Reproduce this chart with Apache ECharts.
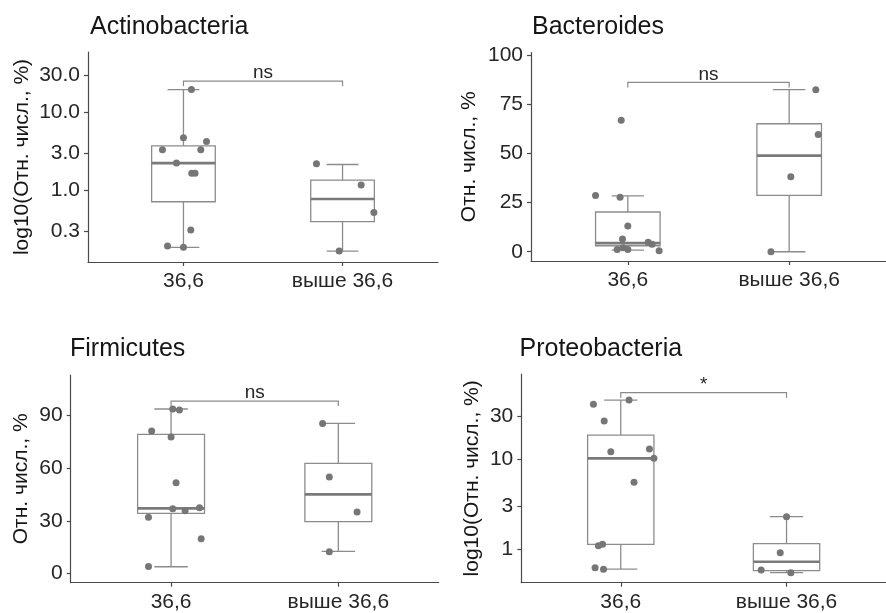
<!DOCTYPE html>
<html>
<head>
<meta charset="utf-8">
<script src="https://cdn.jsdelivr.net/npm/echarts@6/dist/echarts.min.js"></script>
<style>
html,body{margin:0;padding:0;background:#fff;}
#chart{width:886px;height:613px;}
</style>
</head>
<body>
<div id="chart"></div>
<script>
// ---------------- DATA ----------------
const categories = ['36,6', 'выше 36,6'];
const panelTitles = ['Actinobacteria', 'Bacteroides', 'Firmicutes', 'Proteobacteria'];
const yNames = ['log10(Отн. числ., %)', 'Отн. числ., %', 'Отн. числ., %', 'log10(Отн. числ., %)'];

// Actinobacteria (%), log scale
const actinoGroup1 = [19.5, 4.69, 4.21, 3.29, 3.29, 2.22, 1.64, 1.64, 0.307, 0.191, 0.184];
const actinoJitter1 = [0.05, 0, 0.145, -0.132, 0.109, -0.044, 0.052, 0.073, 0.046, -0.1, 0];
const actinoGroup2 = [2.18, 1.16, 0.517, 0.165];
const actinoJitter2 = [-0.164, 0.117, 0.197, -0.021];
const actinoBox = [[0.184, 0.708, 2.22, 3.70, 19.5], [0.165, 0.393, 0.767, 1.34, 2.13]];
const actinoTicks = [0.3, 1, 3, 10, 30];

// Bacteroides (%)
const bactGroup1 = [66.8, 28.6, 27.7, 13.1, 6.5, 4.8, 3.8, 2.0, 1.2, 1.2, 0.5];
const bactJitter1 = [-0.041, -0.2, -0.048, 0, -0.033, 0.126, 0.15, -0.03, -0.066, 0, 0.194];
const bactGroup2 = [82.3, 59.5, 38.1, 0];
const bactJitter2 = [0.165, 0.18, 0.01, -0.113];
const bactBox = [[0.86, 3.05, 4.4, 20.2, 28.4], [0, 28.6, 48.8, 65, 82.3]];
const bactTicks = [0, 25, 50, 75, 100];

// Firmicutes (%)
const firmGroup1 = [93.8, 93.2, 81.2, 77.8, 51.7, 36.9, 35.8, 37.5, 32, 19.8, 4.0];
const firmJitter1 = [0.01, 0.05, -0.116, 0, 0.03, 0.01, 0.084, 0.17, -0.135, 0.18, -0.135];
const firmGroup2 = [85.6, 55, 35, 12.4];
const firmJitter2 = [-0.094, -0.054, 0.112, -0.054];
const firmBox = [[3.8, 34.2, 37.1, 79.3, 93.8], [12.6, 29.5, 45.1, 62.8, 85.6]];
const firmTicks = [0, 30, 60, 90];

// Proteobacteria (%), log scale
const proteoGroup1 = [45.9, 41.1, 26.8, 12.2, 13.1, 10.3, 5.57, 1.137, 1.1, 0.625, 0.599];
const proteoJitter1 = [0.05, -0.165, -0.1, -0.06, 0.173, 0.2, 0.08, -0.11, -0.135, -0.155, -0.104];
const proteoGroup2 = [2.31, 0.918, 0.589, 0.55];
const proteoJitter2 = [0, -0.038, -0.153, 0.026];
const proteoBox = [[0.604, 1.137, 10.3, 18.7, 45.9], [0.55, 0.579, 0.729, 1.156, 2.31]];
const proteoTicks = [1, 3, 10, 30];

// significance brackets
const sigLabels = ['ns', 'ns', 'ns', '*'];
const sigLevels = [25, 86, 98.3, 55.5];

// ---------------- LAYOUT / STYLE ----------------
const FONT = "'Liberation Sans', Arial, sans-serif";
const panels = [
  { g1: actinoGroup1, j1: actinoJitter1, g2: actinoGroup2, j2: actinoJitter2, box: actinoBox, ticks: actinoTicks, log: true, dec: 1,
    grid: { left: 88, top: 52, width: 350, height: 210 }, yRange: [0.1194, 59.2], nameGap: 55, titlePos: [90, 14.5] },
  { g1: bactGroup1, j1: bactJitter1, g2: bactGroup2, j2: bactJitter2, box: bactBox, ticks: bactTicks, log: false, dec: 0,
    grid: { left: 531, top: 52.5, width: 356, height: 208.5 }, yRange: [-4.7, 101.2], nameGap: 51.5, titlePos: [532, 14.5] },
  { g1: firmGroup1, j1: firmJitter1, g2: firmGroup2, j2: firmJitter2, box: firmBox, ticks: firmTicks, log: false, dec: 0,
    grid: { left: 70.7, top: 375, width: 368, height: 207.7 }, yRange: [-5.3, 113.2], nameGap: 39, titlePos: [70, 337] },
  { g1: proteoGroup1, j1: proteoJitter1, g2: proteoGroup2, j2: proteoJitter2, box: proteoBox, ticks: proteoTicks, log: true, dec: 0,
    grid: { left: 521.3, top: 374, width: 368, height: 208.7 }, yRange: [0.4256, 89.5], nameGap: 39, titlePos: [519.5, 337] }
];
const BOX_W = 0.4, CAP_W = 0.2;
const BOX_COLOR = '#8c8c8c', MED_COLOR = '#7a7a7a', PT_COLOR = '#767676', AXIS_COLOR = '#4a4a4a';
const TEXT_COLOR = '#262626', TITLE_COLOR = '#161616';

// ---------------- BUILD ----------------
const option = { animation: false, backgroundColor: '#fff', title: [], grid: [], xAxis: [], yAxis: [], series: [] };

panels.forEach((p, i) => {
  const tf = p.log ? (v => Math.log10(v)) : (v => v);
  option.title.push({
    text: panelTitles[i], left: p.titlePos[0], top: p.titlePos[1], padding: 0,
    textStyle: { fontFamily: FONT, fontSize: 25, fontWeight: 'normal', color: TITLE_COLOR }
  });
  option.grid.push(Object.assign({ containLabel: false }, p.grid));
  option.xAxis.push({
    type: 'value', gridIndex: i, min: 0.4, max: 2.6,
    splitLine: { show: false },
    axisLine: { show: true, onZero: false, lineStyle: { color: AXIS_COLOR, width: 1.2 } },
    axisTick: { show: true, length: 4, customValues: [1, 2], lineStyle: { color: AXIS_COLOR, width: 1.2 } },
    axisLabel: { show: true, customValues: [1, 2], margin: 9, fontSize: 21, fontFamily: FONT, color: TEXT_COLOR,
      formatter: v => categories[Math.round(v) - 1] }
  });
  const tickVals = p.ticks.map(tf);
  option.yAxis.push({
    type: 'value', gridIndex: i, min: tf(p.yRange[0]), max: tf(p.yRange[1]),
    splitLine: { show: false },
    axisLine: { show: true, onZero: false, lineStyle: { color: AXIS_COLOR, width: 1.2 } },
    axisTick: { show: true, length: 4, customValues: tickVals, lineStyle: { color: AXIS_COLOR, width: 1.2 } },
    axisLabel: { show: true, customValues: tickVals, margin: 8, fontSize: 21, fontFamily: FONT, color: TEXT_COLOR,
      formatter: v => { const idx = tickVals.findIndex(t => Math.abs(t - v) < 1e-6); return p.ticks[idx].toFixed(p.dec); } },
    name: yNames[i], nameLocation: 'middle', nameRotate: 90, nameGap: p.nameGap,
    nameTextStyle: { fontSize: 21, fontFamily: FONT, color: TITLE_COLOR }
  });

  // boxes
  option.series.push({
    type: 'custom', xAxisIndex: i, yAxisIndex: i, z: 2,
    data: p.box.map((b, k) => [k + 1].concat(b.map(tf))),
    renderItem: (params, api) => {
      const x = api.value(0);
      const lo = api.coord([x, api.value(1)]);
      const q1 = api.coord([x, api.value(2)]);
      const md = api.coord([x, api.value(3)]);
      const q3 = api.coord([x, api.value(4)]);
      const hi = api.coord([x, api.value(5)]);
      const hb = api.size([BOX_W / 2, 0])[0];
      const hc = api.size([CAP_W / 2, 0])[0];
      const ls = { stroke: BOX_COLOR, lineWidth: 1.3, fill: null };
      return { type: 'group', children: [
        { type: 'line', shape: { x1: q3[0], y1: q3[1], x2: hi[0], y2: hi[1] }, style: ls },
        { type: 'line', shape: { x1: q1[0], y1: q1[1], x2: lo[0], y2: lo[1] }, style: ls },
        { type: 'line', shape: { x1: hi[0] - hc, y1: hi[1], x2: hi[0] + hc, y2: hi[1] }, style: ls },
        { type: 'line', shape: { x1: lo[0] - hc, y1: lo[1], x2: lo[0] + hc, y2: lo[1] }, style: ls },
        { type: 'rect', shape: { x: q3[0] - hb, y: q3[1], width: 2 * hb, height: q1[1] - q3[1] },
          style: { fill: '#ffffff', stroke: BOX_COLOR, lineWidth: 1.3 } },
        { type: 'line', shape: { x1: md[0] - hb, y1: md[1], x2: md[0] + hb, y2: md[1] },
          style: { stroke: MED_COLOR, lineWidth: 2.6 } }
      ] };
    }
  });

  // points
  const pts = p.g1.map((v, k) => [1 + p.j1[k], tf(v)]).concat(p.g2.map((v, k) => [2 + p.j2[k], tf(v)]));
  option.series.push({
    type: 'scatter', xAxisIndex: i, yAxisIndex: i, z: 3, symbolSize: 7,
    itemStyle: { color: PT_COLOR, opacity: 1 }, data: pts
  });

  // significance bracket
  option.series.push({
    type: 'custom', xAxisIndex: i, yAxisIndex: i, z: 4,
    data: [[1, 2, tf(sigLevels[i])]],
    renderItem: (params, api) => {
      const a = api.coord([api.value(0), api.value(2)]);
      const b = api.coord([api.value(1), api.value(2)]);
      const tip = 5;
      return { type: 'group', children: [
        { type: 'polyline', shape: { points: [[a[0], a[1] + tip], a, b, [b[0], b[1] + tip]] },
          style: { stroke: '#8a8a8a', lineWidth: 1.2, fill: null } },
        { type: 'text', x: (a[0] + b[0]) / 2, y: a[1] - 8,
          style: { text: sigLabels[i], fontSize: 19, fontFamily: FONT, fill: TEXT_COLOR, align: 'center', verticalAlign: 'middle' } }
      ] };
    }
  });
});

const chart = echarts.init(document.getElementById('chart'), null, { renderer: 'canvas' });
chart.setOption(option);
</script>
</body>
</html>
